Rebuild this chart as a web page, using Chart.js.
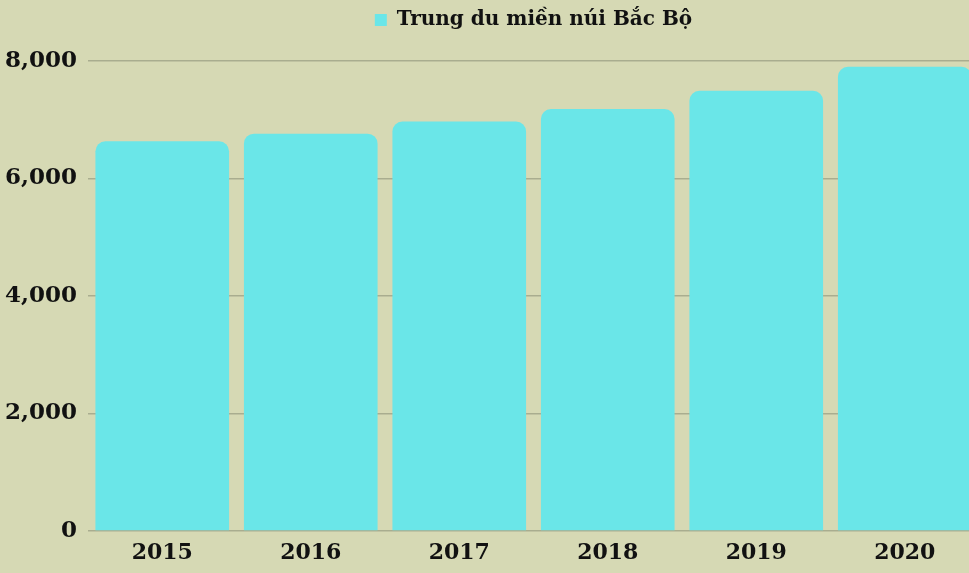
<!DOCTYPE html>
<html>
<head>
<meta charset="utf-8">
<script src="https://cdn.jsdelivr.net/npm/chart.js@4"></script>
<style>
  html, body { margin: 0; padding: 0; overflow: hidden; background: #d6d9b4; }
</style>
</head>
<body>
<canvas id="chart" width="979" height="573"></canvas>
<script>
const years = ["2015", "2016", "2017", "2018", "2019", "2020"];
const values = [6632, 6763, 6971, 7181, 7492, 7903];
const seriesName = "Trung du miền núi Bắc Bộ";

const fontFamily = "'DejaVu Serif', serif";

// extra room under the legend
const legendGap = {
  id: "legendGap",
  beforeInit(chart) {
    const fit = chart.legend.fit;
    chart.legend.fit = function () {
      fit.bind(chart.legend)();
      this.height += 21;
    };
  },
};

const ctx = document.getElementById("chart").getContext("2d");
new Chart(ctx, {
  type: "bar",
  data: {
    labels: years,
    datasets: [
      {
        label: seriesName,
        data: values,
        backgroundColor: "#6ae6e8",
        borderRadius: 10,
        borderSkipped: "start",
        categoryPercentage: 1,
        barPercentage: 0.9,
      },
    ],
  },
  options: {
    responsive: false,
    animation: false,
    layout: { padding: 0 },
    plugins: {
      legend: {
        fullSize: false,
        labels: {
          boxWidth: 12,
          boxHeight: 12,
          color: "#111",
          font: { family: fontFamily, size: 20, weight: "bold" },
          padding: 10,
        },
      },
      tooltip: { enabled: false },
    },
    scales: {
      x: {
        afterFit: (scale) => { scale.height = 42; },
        grid: { display: false, drawTicks: false },
        border: { display: false },
        ticks: {
          color: "#111",
          padding: 9,
          font: { family: fontFamily, size: 22, weight: "bold" },
        },
      },
      y: {
        min: 0,
        max: 8000,
        afterFit: (scale) => { scale.width = 88; },
        grid: { color: "#a9ad8f", lineWidth: 1.5, drawTicks: false },
        border: { display: false },
        ticks: {
          stepSize: 2000,
          padding: 11,
          color: "#111",
          font: { family: fontFamily, size: 23, weight: "bold" },
          callback: (v) => v.toLocaleString("en-US"),
        },
      },
    },
  },
  plugins: [legendGap],
});
</script>
</body>
</html>
